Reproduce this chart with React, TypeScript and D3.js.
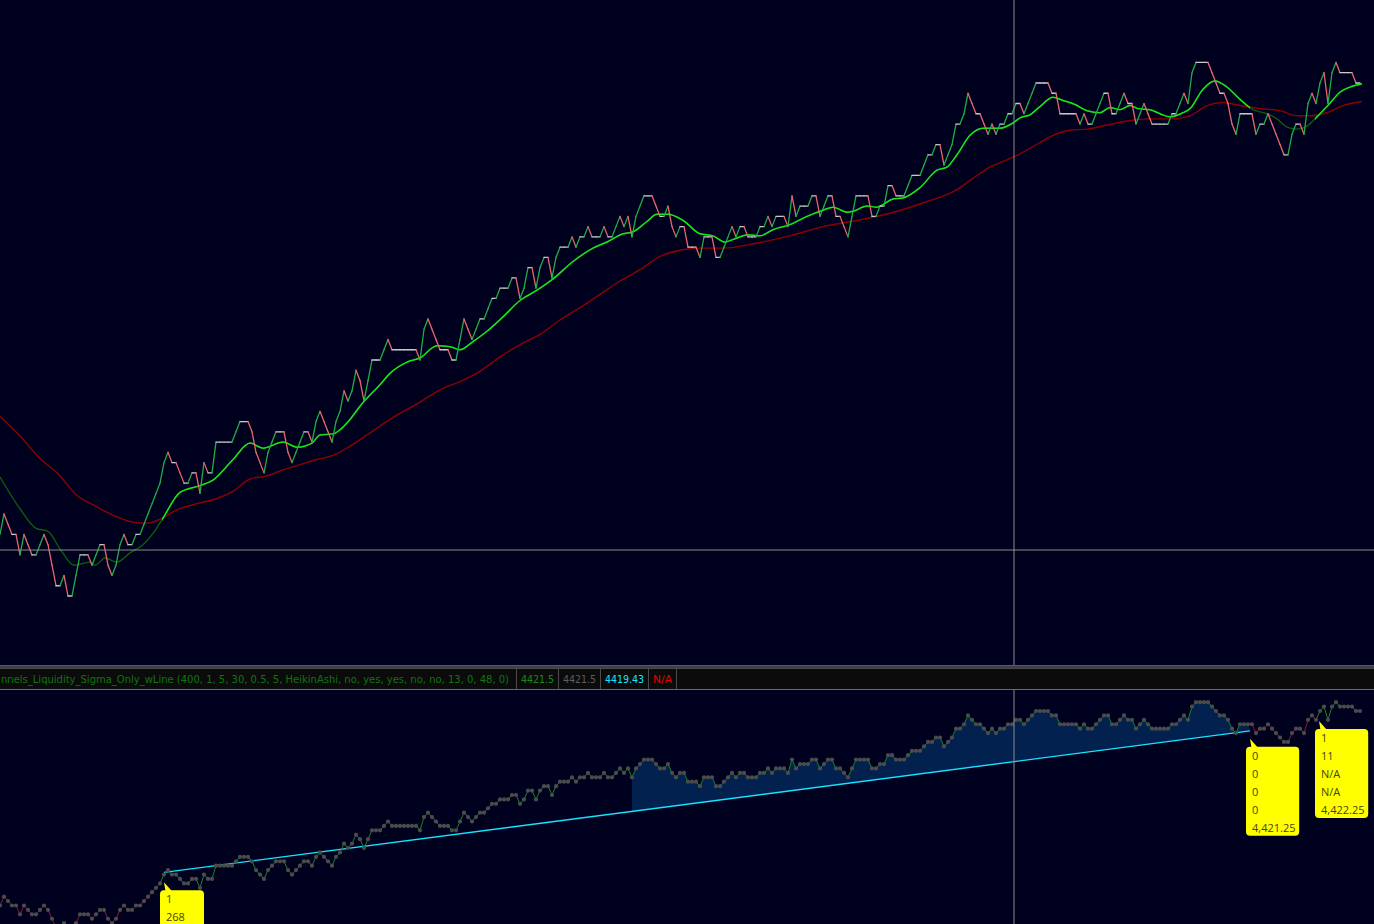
import React from 'react'
import * as d3 from 'd3'

// closing prices, one per bar (0.25 tick grid)
const closes = [
  4411.25, 4411.75, 4411.5, 4411.25, 4411.25, 4410.75, 4411.25, 4411, 4410.75, 4410.75,
  4411, 4411.25, 4411, 4410.5, 4410, 4410, 4410.25, 4409.75, 4409.75, 4410.25,
  4410.75, 4410.75, 4410.75, 4410.5, 4410.75, 4411, 4411, 4410.5, 4410.25, 4410.5,
  4411, 4411.25, 4411, 4411, 4411.25, 4411.25, 4411.5, 4411.75, 4412, 4412.25,
  4412.5, 4413, 4413.25, 4413, 4413, 4412.75, 4412.5, 4412.5, 4412.75, 4412.75,
  4412.25, 4413, 4412.75, 4412.75, 4413.5, 4413.5, 4413.5, 4413.5, 4413.5, 4413.75,
  4414, 4414, 4414, 4413.75, 4413.25, 4413, 4412.75, 4413.25, 4413.5, 4413.75,
  4413.75, 4413.75, 4413.25, 4413, 4413.25, 4413.5, 4413.75, 4413.75, 4413.5, 4414,
  4414.25, 4414, 4413.75, 4413.5, 4414, 4414.25, 4414.75, 4414.5, 4414.75, 4415.25,
  4415, 4414.5, 4415, 4415.5, 4415.5, 4415.5, 4415.75, 4416, 4415.75, 4415.75,
  4415.75, 4415.75, 4415.75, 4415.75, 4415.75, 4415.5, 4416.25, 4416.5, 4416.25, 4416,
  4415.75, 4415.75, 4415.75, 4415.5, 4415.5, 4416, 4416.5, 4416.25, 4416, 4416.25,
  4416.5, 4416.5, 4416.75, 4417, 4417, 4417.25, 4417.25, 4417.25, 4417.5, 4417.5,
  4417, 4417.25, 4417.75, 4417.75, 4417.25, 4417.75, 4418, 4418, 4417.5, 4418,
  4418.25, 4418.25, 4418.25, 4418.5, 4418.25, 4418.5, 4418.5, 4418.75, 4418.5, 4418.5,
  4418.5, 4418.75, 4418.5, 4418.5, 4418.75, 4419, 4418.75, 4419, 4418.5, 4419,
  4419.25, 4419.5, 4419.5, 4419.5, 4419.25, 4419, 4419, 4419.25, 4418.75, 4418.5,
  4418.75, 4418.75, 4418.25, 4418.25, 4418.25, 4418, 4418.5, 4418.5, 4418.5, 4418,
  4418, 4418.25, 4418.5, 4418.75, 4418.5, 4418.75, 4418.75, 4418.5, 4418.5, 4418.5,
  4418.75, 4418.75, 4419, 4418.75, 4419, 4419, 4419, 4418.75, 4419.5, 4419,
  4419.25, 4419.25, 4419.25, 4419.5, 4419.5, 4419, 4419.25, 4419.5, 4419.5, 4419,
  4419, 4418.75, 4418.5, 4419, 4419.5, 4419.5, 4419.5, 4419.5, 4419, 4419,
  4419.25, 4419.25, 4419.75, 4419.75, 4419.5, 4419.5, 4419.5, 4419.75, 4420, 4420,
  4420, 4420.25, 4420.5, 4420.5, 4420.75, 4420.75, 4420.25, 4420.5, 4420.75, 4421.25,
  4421.25, 4421.5, 4422, 4421.75, 4421.5, 4421.5, 4421.25, 4421, 4421.25, 4421,
  4421.25, 4421.25, 4421.5, 4421.5, 4421.75, 4421.75, 4421.5, 4421.75, 4422, 4422.25,
  4422.25, 4422.25, 4422.25, 4422, 4422, 4421.5, 4421.5, 4421.5, 4421.5, 4421.5,
  4421.25, 4421.5, 4421.25, 4421.25, 4421.5, 4421.75, 4422, 4422, 4421.5, 4421.5,
  4421.75, 4422, 4421.75, 4421.75, 4421.25, 4421.5, 4421.75, 4421.5, 4421.25, 4421.25,
  4421.25, 4421.25, 4421.25, 4421.5, 4421.5, 4421.75, 4422, 4421.75, 4422.5, 4422.75,
  4422.75, 4422.75, 4422.75, 4422.5, 4422.25, 4422, 4422, 4421.75, 4421.25, 4421,
  4421.5, 4421.5, 4421.5, 4421.5, 4421, 4421.25, 4421.25, 4421.5, 4421.25, 4421,
  4420.75, 4420.5, 4420.5, 4421, 4421.25, 4421.25, 4421, 4421.75, 4422, 4421.75,
  4422.25, 4422.5, 4421.75, 4422.5, 4422.75, 4422.5, 4422.5, 4422.5, 4422.5, 4422.25,
  4422.25,
]

// fast average [bar, price], sampled along the curve
const fastEma: [number, number][] = [
  [0, 4412.65], [5, 4411.875], [9, 4411.4], [12, 4411.325], [15, 4410.9], [18.5, 4410.5],
  [22.5, 4410.575], [23.75, 4410.5], [26.25, 4410.675], [29.25, 4410.575], [32.5, 4410.8],
  [35.75, 4411.0], [38.25, 4411.275], [40.75, 4411.65], [45, 4412.275], [50, 4412.44],
  [53.25, 4412.575], [58.25, 4413.075], [62.5, 4413.475], [65.75, 4413.35], [70.75, 4413.5],
  [74.25, 4413.375], [78, 4413.475], [80, 4413.675], [83.25, 4413.7], [85, 4413.8],
  [87.5, 4414.05], [90, 4414.375], [95, 4414.9], [97.5, 4415.175], [101.75, 4415.45],
  [105, 4415.55], [109.25, 4415.85], [112.5, 4415.825], [115, 4415.75], [118.25, 4415.95],
  [121.75, 4416.2], [125.75, 4416.55], [130, 4416.95], [134.25, 4417.2], [138.25, 4417.475],
  [143.25, 4417.9], [148.25, 4418.225], [151.75, 4418.375], [155.75, 4418.575],
  [158.25, 4418.625], [161.75, 4418.875], [164.25, 4419.05], [167, 4419.05],
  [170.75, 4418.9], [175, 4418.575], [178.25, 4418.525], [181.25, 4418.375],
  [184.25, 4418.475], [187, 4418.55], [190, 4418.525], [193.25, 4418.675], [197.5, 4418.8],
  [201.75, 4419.0], [205.75, 4419.15], [208.25, 4419.225], [211.75, 4419.1],
  [213.25, 4419.125], [216.75, 4419.25], [219.25, 4419.225], [223.25, 4419.425],
  [225.75, 4419.45], [230, 4419.7], [234.25, 4420.125], [236.75, 4420.2], [239.25, 4420.5],
  [242.5, 4420.975], [245.75, 4421.15], [250, 4421.15], [253.25, 4421.275], [255, 4421.4],
  [257.5, 4421.475], [260, 4421.675], [263.25, 4421.9], [265.75, 4421.825],
  [268.75, 4421.725], [271.75, 4421.575], [275, 4421.525], [277.5, 4421.65], [280, 4421.6],
  [282.5, 4421.7], [284.5, 4421.625], [287.5, 4421.6], [290, 4421.5], [292.5, 4421.425],
  [295.75, 4421.525], [297.5, 4421.625], [300.75, 4422.1], [303.75, 4422.3],
  [306.75, 4422.15], [310, 4421.85], [313.25, 4421.6], [316.75, 4421.5], [319.25, 4421.375],
  [321.75, 4421.175], [324.25, 4421.125], [326.75, 4421.2], [329.25, 4421.425],
  [331.75, 4421.675], [335, 4422.025], [338.25, 4422.175], [340.5, 4422.225],
]

// slow average [bar, price]
const slowEma: [number, number][] = [
  [0, 4414.125], [5, 4413.65], [10, 4413.1], [14.25, 4412.75], [19.25, 4412.2],
  [23.25, 4411.975], [29.25, 4411.675], [33.25, 4411.55], [36.75, 4411.525], [40, 4411.625],
  [44.25, 4411.85], [49.25, 4412.0], [54.25, 4412.125], [58.25, 4412.3], [62.5, 4412.6],
  [66.75, 4412.675], [70.75, 4412.825], [75, 4412.95], [79.25, 4413.075], [83.25, 4413.175],
  [87.5, 4413.4], [91.75, 4413.675], [98.25, 4414.1], [105, 4414.475], [110, 4414.775],
  [115, 4414.975], [120, 4415.225], [125, 4415.575], [130, 4415.875], [135, 4416.125],
  [140, 4416.475], [145, 4416.775], [150, 4417.1], [155, 4417.425], [160, 4417.7],
  [165, 4418.025], [170, 4418.175], [175, 4418.225], [180.75, 4418.225], [189.25, 4418.35],
  [197.5, 4418.525], [205.75, 4418.75], [214.25, 4418.9], [222.5, 4419.075],
  [230.75, 4419.325], [239.25, 4419.65], [243.25, 4419.925], [247.5, 4420.2],
  [251.75, 4420.375], [255, 4420.525], [260, 4420.8], [263.25, 4420.975], [267.5, 4421.1],
  [271.75, 4421.125], [276.75, 4421.225], [281.75, 4421.325], [286.75, 4421.375],
  [292.5, 4421.375], [297.5, 4421.45], [301.75, 4421.7], [305.75, 4421.775], [310, 4421.7],
  [315, 4421.625], [320, 4421.575], [324.25, 4421.45], [327.5, 4421.45], [331.75, 4421.525],
  [335.75, 4421.7], [340.5, 4421.8],
]

// bar spans where the fast average sits above the slow one
const bullRanges: [number, number][] = [[40.5, 312.5], [328.75, 341]]

// anchored line in the lower pane [bar, price]
const trendStart: [number, number] = [41, 4413.125]
const trendEnd: [number, number] = [312.5, 4421.125]
const fillStartBar = 158

const crosshair = { bar: 253.5, price: 4410.87 }

const studyTitle =
  'nnels_Liquidity_Sigma_Only_wLine (400, 1, 5, 30, 0.5, 5, HeikinAshi, no, yes, yes, no, no, 13, 0, 48, 0)'
const statusValues = ['4421.5', '4421.5', '4419.43', 'N/A']

const bubbles = [
  { bar: 41, price: 4413.125, lines: ['1', '268'] },
  { bar: 312.5, price: 4421.25, lines: ['0', '0', '0', '0', '4,421.25'] },
  { bar: 329.75, price: 4422.25, lines: ['1', '11', 'N/A', 'N/A', '4,422.25'] },
]

const W = 1374
const H = 924
const BG = '#00001f'
const UP = '#1fae45'
const DOWN = '#e8676b'
const FLAT = '#c9c9c9'

const x = d3.scaleLinear().domain([0, closes.length - 1]).range([0, 1360])
const yMain = d3.scaleLinear().domain([4408.093, 4424.272]).range([664, 0])
const yLow = d3.scaleLinear().domain([4410.2025, 4423.438]).range([924, 690])

const inBull = (b: number) => bullRanges.some(([a, c]) => b >= a && b <= c)
const trendAt = (b: number) =>
  trendStart[1] + ((b - trendStart[0]) / (trendEnd[0] - trendStart[0])) * (trendEnd[1] - trendStart[1])

const App = () => {
  const emaLine = d3
    .line<[number, number]>()
    .x((d) => x(d[0]))
    .y((d) => yMain(d[1]))
    .curve(d3.curveMonotoneX)

  const fillBars = d3.range(fillStartBar, Math.floor(trendEnd[0]) + 1).concat([trendEnd[0]])
  const fillArea = d3
    .area<number>()
    .x((b) => x(b))
    .y0((b) => yLow(trendAt(b)))
    .y1((b) => {
      const c = b === trendEnd[0] ? trendAt(b) : closes[b]
      return yLow(Math.max(c, trendAt(b)))
    })

  // status cells: separators at left edge, text box inside
  const statusCells = [
    { x0: 516.5, x1: 558.5, color: '#1c8a1c' },
    { x0: 558.5, x1: 600.5, color: '#5e5e5e' },
    { x0: 600.5, x1: 648.5, color: '#19e3ff' },
    { x0: 648.5, x1: 676.5, color: '#e80000' },
  ]
  const rowFont = "'Liberation Sans Narrow', 'DejaVu Sans Condensed', 'Roboto', sans-serif"

  return (
    <div style={{ position: 'fixed', left: 0, top: 0, width: W, height: H, background: BG }}>
      <svg width={W} height={H} style={{ display: 'block' }}>
        <defs>
          <clipPath id="main-clip">
            <rect x={0} y={0} width={W} height={665} />
          </clipPath>
          <clipPath id="bull-clip">
            {bullRanges.map(([a, b], i) => (
              <rect key={i} x={x(a)} y={0} width={x(b) - x(a)} height={665} />
            ))}
          </clipPath>
          <clipPath id="low-clip">
            <rect x={0} y={690} width={W} height={H - 690} />
          </clipPath>
        </defs>
        <rect width={W} height={H} fill={BG} />

        {/* main pane */}
        <g clipPath="url(#main-clip)">
          <path d={emaLine(slowEma) ?? ''} fill="none" stroke="#8e0000" strokeWidth={1.4} />
          <path d={emaLine(fastEma) ?? ''} fill="none" stroke="#0b5e0b" strokeWidth={1.4} />
          <path
            d={emaLine(fastEma) ?? ''}
            fill="none"
            stroke="#17e617"
            strokeWidth={1.5}
            clipPath="url(#bull-clip)"
          />
          {closes.slice(1).map((c, i) => {
            const p = closes[i]
            return (
              <line
                key={i}
                x1={x(i)}
                y1={yMain(p)}
                x2={x(i + 1)}
                y2={yMain(c)}
                stroke={c > p ? UP : c < p ? DOWN : FLAT}
                strokeWidth={1.3}
                strokeLinecap="round"
              />
            )
          })}
          <line x1={0} x2={W} y1={yMain(crosshair.price)} y2={yMain(crosshair.price)} stroke="#8c8c8c" />
        </g>

        {/* pane divider + status row */}
        <line x1={0} x2={W} y1={665.5} y2={665.5} stroke="#5a5a5a" />
        <line x1={0} x2={W} y1={667} y2={667} stroke="#7a7a7a" />
        <rect x={0} y={668} width={W} height={21} fill="#0b0b0b" />
        <line x1={0} x2={W} y1={668.5} y2={668.5} stroke="#4a4a4a" />
        <line x1={0} x2={W} y1={689.5} y2={689.5} stroke="#6a6a6a" />
        <g fontFamily={rowFont} fontSize={11}>
          <text x={1} y={683} fill="#137313" textLength={508} lengthAdjust="spacingAndGlyphs">
            {studyTitle}
          </text>
          {statusCells.map((c, i) => {
            const tw = c.x1 - c.x0 - 9
            return (
              <g key={i}>
                <line x1={c.x0} x2={c.x0} y1={668} y2={689} stroke="#4a4a4a" />
                <text
                  x={c.x0 + 4.5}
                  y={683}
                  fill={c.color}
                  textLength={tw}
                  lengthAdjust="spacingAndGlyphs"
                >
                  {statusValues[i]}
                </text>
              </g>
            )
          })}
          <line x1={676.5} x2={676.5} y1={668} y2={689} stroke="#4a4a4a" />
        </g>

        {/* lower pane */}
        <g clipPath="url(#low-clip)">
          <path d={fillArea(fillBars) ?? ''} fill="#02214f" />
          <line
            x1={x(trendStart[0])}
            y1={yLow(trendStart[1])}
            x2={x(trendEnd[0])}
            y2={yLow(trendEnd[1])}
            stroke="#12e6ff"
            strokeWidth={1.4}
          />
          {closes.slice(1).map((c, i) => (
            <line
              key={i}
              x1={x(i)}
              y1={yLow(closes[i])}
              x2={x(i + 1)}
              y2={yLow(c)}
              stroke={inBull(i + 0.5) ? '#16861c' : '#8c1a2c'}
              strokeWidth={1}
            />
          ))}
          {closes.map((c, i) => (
            <circle key={i} cx={x(i)} cy={yLow(c)} r={2.1} fill="#4c4c4c" />
          ))}
          {bubbles.map((b, i) => {
            const ax = x(b.bar)
            const ay = yLow(b.price)
            const left = ax - 4
            const top = ay + 18
            const maxLen = d3.max(b.lines, (s) => s.length) ?? 1
            const w = Math.max(44, 10 + maxLen * 5.4)
            return (
              <g key={i}>
                <polygon points={`${ax},${ay + 10} ${ax + 1.5},${top + 1} ${ax + 8},${top + 1}`} fill="#ffff00" />
                <rect x={left} y={top} width={w} height={89} rx={4} fill="#ffff00" />
                {b.lines.map((s, j) => (
                  <text
                    key={j}
                    x={left + 6}
                    y={top + 13 + j * 18}
                    fontFamily="'Open Sans', 'DejaVu Sans', sans-serif"
                    fontSize={11}
                    fill="#45450c"
                  >
                    {s}
                  </text>
                ))}
              </g>
            )
          })}
        </g>

        <line x1={x(crosshair.bar)} x2={x(crosshair.bar)} y1={0} y2={665} stroke="#8c8c8c" />
        <line x1={x(crosshair.bar)} x2={x(crosshair.bar)} y1={690} y2={H} stroke="#8c8c8c" />
      </svg>
    </div>
  )
}

export default App
